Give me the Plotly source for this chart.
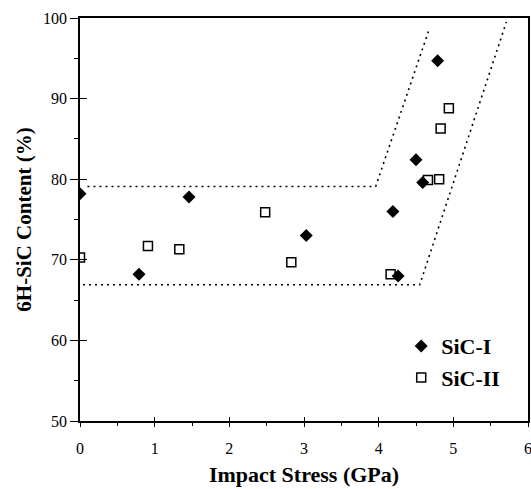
import plotly.graph_objects as go

# SiC-I (filled diamonds)
sic1_x = [0.0, 0.79, 1.46, 3.03, 4.19, 4.26, 4.50, 4.59, 4.79]
sic1_y = [78.2, 68.2, 77.8, 73.0, 76.0, 68.0, 82.4, 79.6, 94.7]
# SiC-II (open squares)
sic2_x = [0.0, 0.91, 1.33, 2.48, 2.83, 4.16, 4.66, 4.81, 4.83, 4.94]
sic2_y = [70.3, 71.7, 71.3, 75.9, 69.7, 68.2, 79.9, 80.0, 86.3, 88.8]
# dotted boundary lines
upper_x = [0.1, 3.96, 4.68]
upper_y = [79.1, 79.1, 98.7]
lower_x = [0.04, 4.55, 5.71]
lower_y = [66.9, 66.9, 99.5]

x_range = [0, 6]
y_range = [50, 100]
x_ticks = [0, 1, 2, 3, 4, 5, 6]
y_ticks = [50, 60, 70, 80, 90, 100]

SERIF = "Liberation Serif, Times New Roman, serif"

fig = go.Figure()
for lx, ly in [(upper_x, upper_y), (lower_x, lower_y)]:
    fig.add_trace(go.Scatter(x=lx, y=ly, mode="lines", showlegend=False,
                             line=dict(color="black", width=1.6, dash="2px,4px"),
                             hoverinfo="skip"))
fig.add_trace(go.Scatter(x=sic1_x, y=sic1_y, mode="markers", name="SiC-I",
                         marker=dict(symbol="diamond", size=10, color="black")))
fig.add_trace(go.Scatter(x=sic2_x, y=sic2_y, mode="markers", name="SiC-II",
                         marker=dict(symbol="square-open", size=9, color="black",
                                     line=dict(width=1.5, color="black"))))

axis_common = dict(showgrid=False, zeroline=False, showline=True, linecolor="black",
                   linewidth=1.5, ticks="outside", tickwidth=1.2,
                   tickcolor="black", mirror=True, automargin=False,
                   ticklabeloverflow="allow",
                   tickfont=dict(family=SERIF, size=16, color="black"))

fig.update_layout(
    width=531, height=489, autosize=False,
    margin=dict(l=80, r=3, t=18, b=68),
    paper_bgcolor="white", plot_bgcolor="white",
    xaxis=dict(range=x_range, tickvals=x_ticks, ticklen=4, ticklabelstandoff=8, **axis_common,
               minor=dict(dtick=0.5, ticks="outside", ticklen=3, tickcolor="black", tickwidth=1),
               title=dict(text="<b>Impact Stress (GPa)</b>", standoff=11,
                          font=dict(family=SERIF, size=22, color="black"))),
    yaxis=dict(range=y_range, tickvals=y_ticks, ticklen=8, **axis_common,
               minor=dict(dtick=5, ticks="outside", ticklen=4, tickcolor="black", tickwidth=1),
               title=dict(text="<b>6H-SiC Content (%)</b>", standoff=6,
                          font=dict(family=SERIF, size=21, color="black"))),
    xaxis2=dict(range=x_range, tickvals=x_ticks, overlaying="x", showticklabels=False,
                ticks="inside", ticklen=4, tickcolor="black", tickwidth=1.2,
                showgrid=False, zeroline=False, showline=False, automargin=False),
    yaxis2=dict(range=y_range, tickvals=y_ticks, overlaying="y", showticklabels=False,
                ticks="inside", ticklen=7, tickcolor="black", tickwidth=1.2,
                showgrid=False, zeroline=False, showline=False, automargin=False),
    legend=dict(x=0.717, y=0.238, xanchor="left", yanchor="top", itemwidth=30,
                bgcolor="rgba(0,0,0,0)", tracegroupgap=0,
                font=dict(family=SERIF, size=22, color="black", weight="bold")),
)
# invisible helper trace to activate overlay axes for crossing ticks
fig.add_trace(go.Scatter(x=[None], y=[None], xaxis="x2", yaxis="y2", showlegend=False,
                         hoverinfo="skip"))

post = ("document.body.style.margin='0';document.body.style.overflow='hidden';"
        "var gd=document.getElementById('{plot_id}');"
        "Plotly.relayout(gd,{width:531,height:489});")
fig.write_html("out.html", config={"responsive": False, "displayModeBar": False},
               post_script=post)
